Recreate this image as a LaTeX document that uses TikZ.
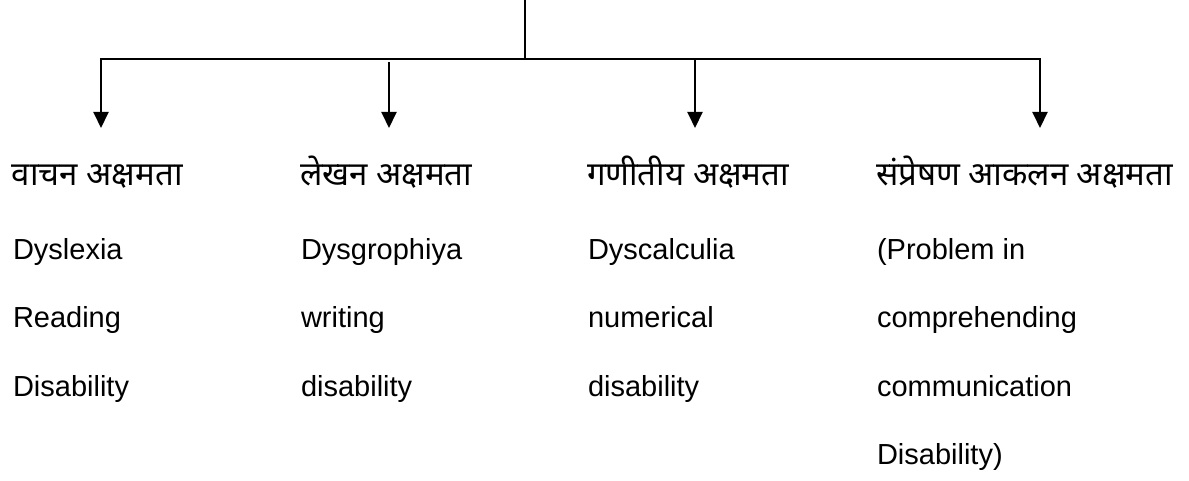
\documentclass[tikz,border=0pt]{standalone}
\usepackage{fontspec}
\setmainfont{Liberation Sans}
\newfontfamily\devfont[Script=Devanagari]{Noto Sans}
\usetikzlibrary{arrows.meta}
\tikzset{
	head/.style={anchor=base west, inner sep=0pt, font=\devfont\fontsize{33}{38}\selectfont},
	line/.style={anchor=base west, inner sep=0pt, font=\fontsize{29}{34}\selectfont},
}
\begin{document}
\begin{tikzpicture}[x=1pt, y=-1pt, line width=2pt, line join=miter, >={Triangle[width=15pt,length=16pt]}]
	\useasboundingbox (0,0) rectangle (1189,481);
	% the branch lines
	\coordinate (top) at (525,0);
	\coordinate (mid) at (525,59);
	\coordinate (a1)  at (101,59);  \coordinate (t1) at (101,128);
	\coordinate (a2)  at (389,62);  \coordinate (t2) at (389,128);
	\coordinate (a3)  at (695,59);  \coordinate (t3) at (695,128);
	\coordinate (a4)  at (1040,59); \coordinate (t4) at (1040,128);
	\draw (top) -- (mid);
	\draw[<->] (t1) -- (a1) -- (a4) -- (t4);
	\draw[->] (a2) -- (t2);
	\draw[->] (a3) -- (t3);
	% headings
	\node[head] (h1) at (11,186)  {वाचन अक्षमता};
	\node[head] (h2) at (299,186) {लेखन अक्षमता};
	\node[head] (h3) at (586,186) {गणीतीय अक्षमता};
	\node[head] (h4) at (875,186) {संप्रेषण आकलन अक्षमता};
	% english lines
	\node[line] (d1) at (12,259)  {Dyslexia};
	\node[line] (r1) at (12,327)  {Reading};
	\node[line] (s1) at (12,396)  {Disability};
	\node[line] (d2) at (300,259) {Dysgrophiya};
	\node[line] (r2) at (300,327) {writing};
	\node[line] (s2) at (300,396) {disability};
	\node[line] (d3) at (587,259) {Dyscalculia};
	\node[line] (r3) at (587,327) {numerical};
	\node[line] (s3) at (587,396) {disability};
	\node[line] (d4) at (876,259) {(Problem in};
	\node[line] (r4) at (876,327) {comprehending};
	\node[line] (s4) at (876,396) {communication};
	\node[line] (e4) at (876,464) {Disability)};
\end{tikzpicture}
\end{document}
